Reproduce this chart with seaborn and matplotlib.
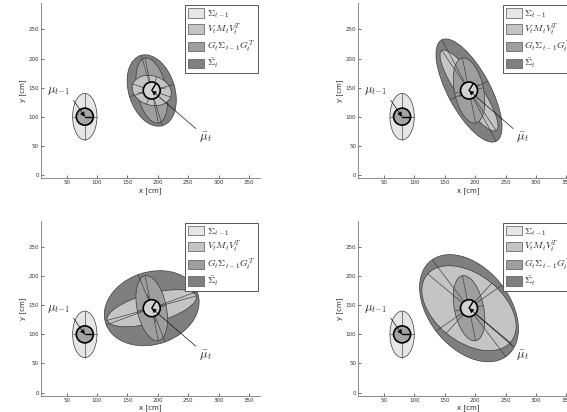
import numpy as np
import matplotlib
matplotlib.use("Agg")
import matplotlib.pyplot as plt
from matplotlib.patches import Ellipse, Patch
import pandas as pd
import seaborn as sns

# ---------------- data ----------------
prev_mean = (80, 100)            # mu_{t-1}
pred_mean = (190, 145)           # bar mu_t
prev_heading = 0                 # deg
pred_heading = 60                # deg

# Sigma_{t-1}: semi-axes and angle
sig_prev_a, sig_prev_b, sig_prev_ang = 20, 40, 0

# panels: top-left, top-right, bottom-left, bottom-right
g_a = [57, 57, 57, 57]
g_b = [24, 24, 24, 24]
g_ang = [101, 101, 101, 101]

v_a = [33, 82, 76, 90]
v_b = [25, 20, 25, 57]
v_ang = [160, 123, 16, 139]

s_a = [63, 98, 80, 103]
s_b = [38, 35, 62, 67]
s_ang = [106, 117, 21, 126]

legend_labels = [r"$\Sigma_{t-1}$", r"$V_tM_tV_t^T$",
                 r"$G_t\Sigma_{t-1}G_t^T$", r"$\bar{\Sigma}_t$"]
x_ticks = [50, 100, 150, 200, 250, 300, 350]
y_ticks = [0, 50, 100, 150, 200, 250]

c_prev, c_v, c_g, c_s = "#e6e6e6", "#c4c4c4", "#9e9e9e", "#7f7f7f"
edge = "#3a3a3a"

sns.set_style("ticks")
plt.rcParams["mathtext.fontset"] = "cm"
plt.rcParams["font.family"] = ["DejaVu Sans"]

fig = plt.figure(figsize=(5.67, 4.12), dpi=100)
W, H = 567.0, 412.0
boxes = [(41, 3.3, 219, 175), (358.3, 3.3, 219, 175),
         (41, 221, 219, 175), (358.3, 221, 219, 175)]


def draw_ellipse(ax, c, a, b, ang, fc):
    ax.add_patch(Ellipse(c, 2 * a, 2 * b, angle=ang, facecolor=fc,
                         edgecolor=edge, lw=0.5, zorder=1))
    t = np.deg2rad(ang)
    ux, uy = np.cos(t), np.sin(t)
    ax.plot([c[0] - a * ux, c[0] + a * ux], [c[1] - a * uy, c[1] + a * uy],
            color=edge, lw=0.45, zorder=1.5)
    ax.plot([c[0] + b * uy, c[0] - b * uy], [c[1] - b * ux, c[1] + b * ux],
            color=edge, lw=0.45, zorder=1.5)


for i, (lx, ty, w, h) in enumerate(boxes):
    ax = fig.add_axes([lx / W, 1 - (ty + h) / H, w / W, h / H])
    ax.set_xlim(8, 368)
    ax.set_ylim(-6, 295)

    # previous belief
    draw_ellipse(ax, prev_mean, sig_prev_a, sig_prev_b, sig_prev_ang, c_prev)

    # predicted: largest first
    ells = [(s_a[i], s_b[i], s_ang[i], c_s),
            (g_a[i], g_b[i], g_ang[i], c_g),
            (v_a[i], v_b[i], v_ang[i], c_v)]
    ells = [ells[0]] + sorted(ells[1:], key=lambda e: -e[0] * e[1])
    for a, b, ang, fc in ells:
        draw_ellipse(ax, pred_mean, a, b, ang, fc)

    # robot poses
    df = pd.DataFrame({"x": [prev_mean[0], pred_mean[0]],
                       "y": [prev_mean[1], pred_mean[1]],
                       "kind": ["prev", "pred"]})
    sns.scatterplot(data=df, x="x", y="y", hue="kind",
                    palette={"prev": "#a4a4a4", "pred": "#d2d2d2"},
                    s=150, edgecolor="k", linewidth=1.2, legend=False,
                    ax=ax, zorder=5)
    for (cx, cy), hd in [(prev_mean, prev_heading), (pred_mean, pred_heading)]:
        t = np.deg2rad(hd)
        ax.plot([cx, cx + 13 * np.cos(t)], [cy, cy + 13 * np.sin(t)],
                color="k", lw=1.0, zorder=6)

    ax.annotate(r"$\mu_{t{-}1}$", xy=prev_mean, xytext=(18, 145),
                fontsize=9, ha="left", va="center", zorder=8,
                arrowprops=dict(arrowstyle="-|>", color="k", lw=0.45,
                                mutation_scale=7, shrinkA=0, shrinkB=0,
                                relpos=(1, 0.1)))
    ax.annotate(r"$\bar{\mu}_t$", xy=pred_mean, xytext=(268, 65),
                fontsize=9, ha="left", va="center", zorder=8,
                arrowprops=dict(arrowstyle="-|>", color="k", lw=0.45,
                                mutation_scale=7, shrinkA=0, shrinkB=0,
                                relpos=(0, 0.9)))

    handles = [Patch(facecolor=c, edgecolor="#555555", lw=0.5)
               for c in (c_prev, c_v, c_g, c_s)]
    leg = ax.legend(handles, legend_labels, loc="upper right", fontsize=7,
                    handlelength=1.65, handleheight=1.1, labelspacing=0.18,
                    borderpad=0.3, handletextpad=0.3, borderaxespad=0.2,
                    frameon=True, fancybox=False, framealpha=1)
    leg.get_frame().set_edgecolor("#555555")
    leg.get_frame().set_linewidth(0.7)

    ax.set_xticks(x_ticks)
    ax.set_yticks(y_ticks)
    ax.tick_params(direction="in", length=2, width=0.5, labelsize=4,
                   pad=1.5, colors="#333333")
    ax.set_xlabel("x [cm]", fontsize=5, labelpad=1)
    ax.set_ylabel("y [cm]", fontsize=5, labelpad=2)
    sns.despine(ax=ax)
    for sp in ("left", "bottom"):
        ax.spines[sp].set_linewidth(0.6)
        ax.spines[sp].set_color("#777777")

fig.savefig("out.png", dpi=100)
